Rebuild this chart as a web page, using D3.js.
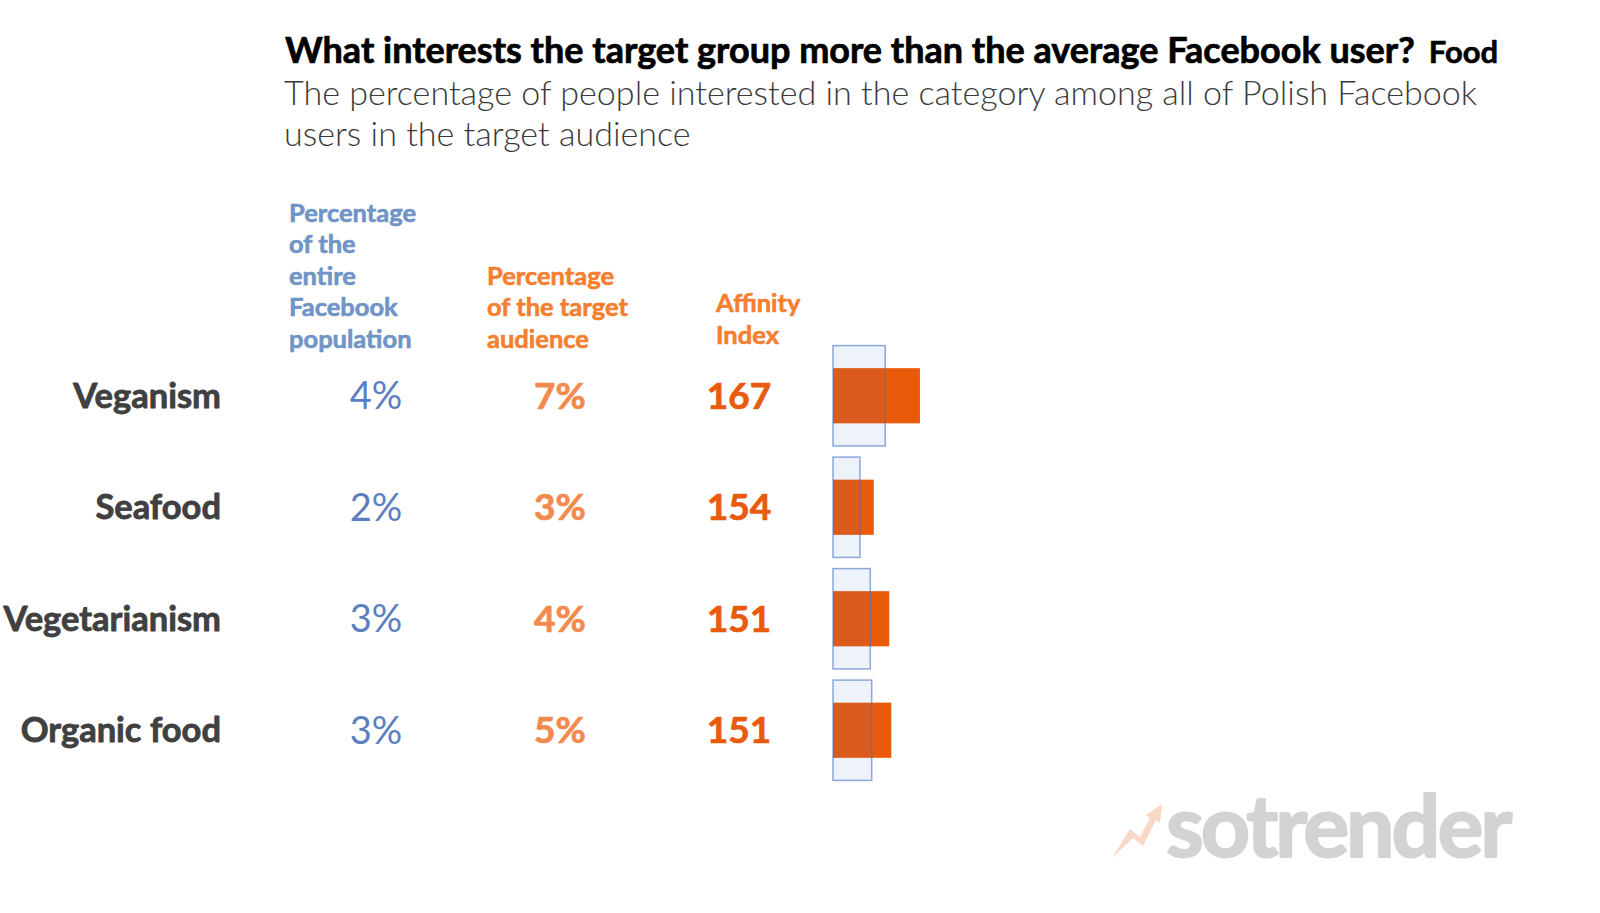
<!DOCTYPE html>
<html>
<head>
<meta charset="utf-8">
<script src="https://cdn.jsdelivr.net/npm/d3@7"></script>
<style>
  html, body { margin: 0; padding: 0; background: #fff; }
  svg { display: block; font-family: Lato, "Open Sans", sans-serif; }
</style>
</head>
<body>
<svg id="chart" width="1600" height="913"></svg>
<script>
// ---- data ----
const categories = ["Veganism", "Seafood", "Vegetarianism", "Organic food"];
const populationPct = [4.05, 2.09, 2.89, 3.0];   // % of entire Facebook population
const targetPct = [6.74, 3.16, 4.36, 4.52];      // % of the target audience
const affinityIndex = [167, 154, 151, 151];
const headerPopulation = ["Percentage", "of the", "entire", "Facebook", "population"];
const headerTarget = ["Percentage", "of the target", "audience"];
const headerAffinity = ["Affinity", "Index"];
const titleText = "What interests the target group more than the average Facebook user?";
const titleTag = "Food";
const subtitleLines = ["The percentage of people interested in the category among all of Polish Facebook", "users in the target audience"];

const rows = categories.map((c, i) => ({ cat: c, pop: populationPct[i], tgt: targetPct[i], aff: affinityIndex[i] }));

const svg = d3.select("#chart");
const HEAVY = 700;
// slight outline to mimic the heavier weight of the original
function heavy(sel, color, w) {
  return sel.attr("font-weight", HEAVY).attr("fill", color)
    .attr("stroke", color).attr("stroke-width", w).attr("stroke-linejoin", "round");
}

// title
const title = heavy(svg.append("text").attr("x", 285).attr("y", 63)
  .attr("font-size", 36), "#000", 0.7)
  .text(titleText);
const tw = title.node().getComputedTextLength();
heavy(svg.append("text").attr("x", 285 + tw + 14).attr("y", 63)
  .attr("font-size", 31), "#000", 0.6)
  .text(titleTag);

svg.append("g").selectAll("text").data(subtitleLines).join("text")
  .attr("x", 284).attr("y", (d, i) => 105 + i * 41)
  .attr("font-weight", 300).attr("font-size", 34.1).attr("fill", "#3a3a3a")
  .text(d => d);

// scales
const y = d3.scaleBand().domain(categories).range([340, 786]).paddingInner(0.1).paddingOuter(0.05);
const x = d3.scaleLinear().domain([0, 10]).range([833, 962]);

const lineH = 31.6;
function header(lines, x0, yLast, color) {
  heavy(svg.append("g").selectAll("text").data(lines).join("text")
    .attr("x", x0).attr("y", (d, i) => yLast - (lines.length - 1 - i) * lineH)
    .attr("font-size", 25.5), color, 0.6)
    .text(d => d);
}
header(headerPopulation, 289, 348, "#7094c6");
header(headerTarget, 487, 348, "#f57f30");
header(headerAffinity, 716, 344, "#f57f30");

const cy = d => y(d.cat) + y.bandwidth() / 2;

// row labels
heavy(svg.append("g").selectAll("text").data(rows).join("text")
  .attr("x", 221).attr("y", d => cy(d)).attr("dy", "0.35em")
  .attr("text-anchor", "end").attr("font-size", 34.5), "#404040", 0.8)
  .text(d => d.cat);

const fmt = v => Math.round(v) + "%";
svg.append("g").selectAll("text").data(rows).join("text")
  .attr("x", 376).attr("y", d => cy(d)).attr("dy", "0.35em")
  .attr("text-anchor", "middle").attr("font-weight", 400).attr("font-size", 38).attr("fill", "#5b7fbf")
  .text(d => fmt(d.pop));
heavy(svg.append("g").selectAll("text").data(rows).join("text")
  .attr("x", 560).attr("y", d => cy(d)).attr("dy", "0.35em")
  .attr("text-anchor", "middle").attr("font-size", 37), "#f28a4e", 0.7)
  .text(d => fmt(d.tgt));
heavy(svg.append("g").selectAll("text").data(rows).join("text")
  .attr("x", 739).attr("y", d => cy(d)).attr("dy", "0.35em")
  .attr("text-anchor", "middle").attr("font-size", 37), "#e85a0c", 0.7)
  .text(d => d.aff);

// orange bars (target)
const oh = y.bandwidth() * 0.55;
svg.append("g").selectAll("rect").data(rows).join("rect")
  .attr("x", x(0)).attr("y", d => cy(d) - oh / 2)
  .attr("width", d => x(d.tgt) - x(0)).attr("height", oh)
  .attr("fill", "#ea5a0b");

// blue bars (population) drawn on top, translucent
svg.append("g").selectAll("rect").data(rows).join("rect")
  .attr("x", x(0)).attr("y", d => y(d.cat))
  .attr("width", d => x(d.pop) - x(0)).attr("height", y.bandwidth())
  .attr("fill", "rgba(68,114,196,0.09)")
  .attr("stroke", "rgba(68,114,196,0.6)").attr("stroke-width", 1.5);

// logo
const logo = svg.append("g");
logo.append("path")
  .attr("d", "M1112,858 L1130,829 L1140,837 L1150,818 L1146,815 L1162,804 L1160,823 L1156,820 L1143,846 L1133,838 Z")
  .attr("fill", "#f9d9c6");
heavy(logo.append("text").attr("x", 1166).attr("y", 857)
  .attr("font-size", 86).attr("letter-spacing", -3), "#d3d3d3", 2)
  .text("sotrender");
</script>
</body>
</html>
